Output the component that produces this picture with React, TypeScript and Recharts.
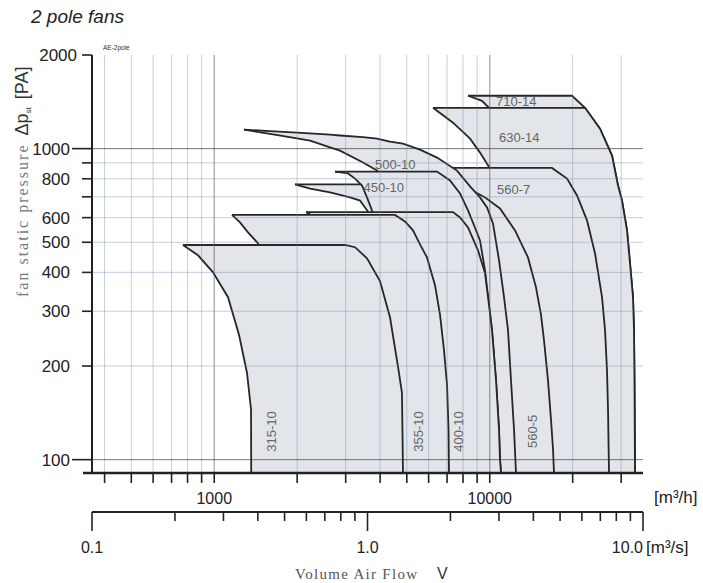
import React from "react";
import { ComposedChart, Area, Line, XAxis, YAxis, ReferenceLine, ReferenceDot } from "recharts";

const SANS = "'Liberation Sans', Arial, sans-serif";
const SERIF = "'Liberation Serif', 'Times New Roman', serif";

// bottom of the pressure axis [Pa]
const F = 90.6;

// fan envelopes: [airflow m3/h, lower pressure Pa, upper pressure Pa]
const FAN_710_14 = [
  [8340, 1479, 1479], [9374, 1425, 1479], [9939, 1353, 1479], [10022, F, 1479],
  [19891, F, 1479], [22172, F, 1353], [25128, F, 1159], [27785, F, 950],
  [29213, F, 761], [30203, F, 681], [31493, F, 546], [32291, F, 428],
  [33111, F, 333], [33389, F, 261], [33530, F, 180], [33673, F, F],
];
const FAN_630_14 = [
  [6224, 1353, 1353], [7356, 1212, 1353], [8481, 1077, 1353], [9218, 971, 1353],
  [10022, 863, 1353], [10106, F, 1353], [22172, F, 1353], [25128, F, 1159],
  [27785, F, 950], [29213, F, 761], [30203, F, 681], [31493, F, 546],
  [32291, F, 428], [33111, F, 333], [33389, F, 261], [33530, F, 180], [33673, F, F],
];
const FAN_560_7 = [
  [7295, 867, 867], [7356, F, 867], [16822, F, 867], [19076, F, 801],
  [20738, F, 707], [22543, F, 588], [24101, F, 461], [25559, F, 333],
  [26208, F, 261], [26643, F, 194], [26873, F, 145], [27097, F, F],
];
const FAN_560_5 = [
  [8769, 728, 728], [8843, F, 725], [9612, F, 697], [10895, F, 642],
  [12352, F, 546], [13766, F, 447], [14720, F, 358], [15350, F, 292],
  [15739, F, 242], [16272, F, 180], [16690, F, 134], [16970, F, 108], [17109, F, F],
];
const FAN_500_10 = [
  [1282, 1151, 1151], [1594, 1115, 1138], [1997, 1078, 1126], [2227, 1061, 1119],
  [2632, 1010, 1109], [2861, 985, 1102], [3467, 902, 1089], [3898, 850, 1077],
  [3931, F, 1075], [4345, F, 1053], [4843, F, 1037], [5583, F, 993],
  [6436, F, 936], [7605, F, 850], [8481, F, 756], [9218, F, 697],
  [9775, F, 647], [10275, F, 575], [10805, F, 438], [11267, F, 333],
  [11650, F, 261], [11944, F, 180], [12250, F, 125], [12454, F, F],
];
const WEDGE = [
  [1964, 767, 767], [2227, 744, 767], [2632, 723, 767], [3111, 697, 767],
  [3381, 681, 767], [3525, 647, 767], [3615, 628, 767], [3645, F, 767], [3931, F, 767],
];
const FAN_450_10 = [
  [2744, 844, 844], [3058, 832, 844], [3243, 801, 844], [3438, 761, 844],
  [3585, 697, 844], [3737, 633, 844], [3770, F, 844], [6436, F, 844],
  [7174, F, 790], [7800, F, 717], [8340, F, 633], [8769, F, 567],
  [9218, F, 507], [9612, F, 406], [9856, F, 333], [10190, F, 261],
  [10537, F, 180], [10805, F, 125], [10895, F, 100], [10987, F, F],
];
const FAN_400_10 = [
  [2154, 625, 625], [2230, 614, 625], [2250, F, 625], [7356, F, 625],
  [7800, F, 601], [8340, F, 558], [9065, F, 471], [9612, F, 398],
  [9856, F, 333], [10190, F, 261], [10537, F, 180], [10805, F, 125],
  [10895, F, 100], [10987, F, F],
];
const FAN_355_10 = [
  [1160, 612, 612], [1240, 579, 612], [1326, 538, 612], [1442, 496, 612],
  [1444, F, 612], [4530, F, 612], [4925, F, 583], [5266, F, 546],
  [5583, F, 492], [5918, F, 447], [6329, F, 364], [6601, F, 292],
  [6822, F, 225], [6998, F, 174], [7085, F, 125], [7114, F, F],
];
const FAN_315_10 = [
  [770, 490, 490], [873, 454, 490], [990, 400, 490], [1122, 333, 490],
  [1230, 252, 490], [1315, 190, 490], [1360, 145, 490], [1362, F, 490],
  [2983, F, 490], [3243, F, 482], [3585, F, 444], [3996, F, 375],
  [4345, F, 287], [4645, F, 199], [4802, F, 164], [4843, F, F],
];

// drawn back to front
const FANS = [
  { name: "710-14", points: FAN_710_14 },
  { name: "630-14", points: FAN_630_14 },
  { name: "560-7", points: FAN_560_7 },
  { name: "560-5", points: FAN_560_5 },
  { name: "500-10", points: FAN_500_10 },
  { name: "wedge", points: WEDGE },
  { name: "450-10", points: FAN_450_10 },
  { name: "400-10", points: FAN_400_10 },
  { name: "355-10", points: FAN_355_10 },
  { name: "315-10", points: FAN_315_10 },
];

const FAN_LABELS = [
  { name: "315-10", q: 1676, p: 106, vertical: true },
  { name: "355-10", q: 5724, p: 106, vertical: true },
  { name: "400-10", q: 8000, p: 106, vertical: true },
  { name: "560-5", q: 14843, p: 109, vertical: true },
  { name: "450-10", q: 3480, p: 723, vertical: false },
  { name: "500-10", q: 3835, p: 863, vertical: false },
  { name: "560-7", q: 10627, p: 717, vertical: false },
  { name: "630-14", q: 10805, p: 1053, vertical: false },
  { name: "710-14", q: 10537, p: 1368, vertical: false },
];

const X_TICKS = [400, 500, 600, 700, 800, 900, 1000, 2000, 3000, 4000, 5000, 6000, 7000, 8000, 9000, 10000, 20000, 30000];
const X_LABELS = [1000, 10000];
const MS_RANGE = [0.1, 10];
const MS_TICKS = [0.1, 0.2, 0.3, 0.4, 0.5, 0.6, 0.7, 0.8, 0.9, 1, 2, 3, 4, 5, 6, 7, 8, 9, 10];
const MS_LABELS: Record<string, string> = { "0.1": "0.1", "1": "1.0", "10": "10.0" };
const Y_TICKS = [100, 200, 300, 400, 500, 600, 700, 800, 900, 1000, 2000];
const Y_LABELS = [100, 200, 300, 400, 500, 600, 800, 1000, 2000];
const GRID_X_MINOR = [400, 500, 600, 700, 800, 900, 2000, 3000, 4000, 5000, 6000, 7000, 8000, 9000, 20000, 30000];
const GRID_X_MAJOR = [1000, 10000];
const GRID_Y_MINOR = [200, 300, 400, 500, 600, 700, 800, 900];
const GRID_Y_MAJOR = [100, 1000];

const QTick = ({ x, y, payload }: any) => {
  const v = payload.value;
  return (
    <g>
      <line x1={x} x2={x} y1={y} y2={y + 10} stroke="#222" strokeWidth={1.6} />
      {X_LABELS.includes(v) && (
        <text x={x} y={y + 31} textAnchor="middle" fontSize={16} fill="#222" fontFamily={SANS}>{v}</text>
      )}
    </g>
  );
};

const MsTick = ({ x, y, payload }: any) => {
  const label = MS_LABELS[String(payload.value)];
  return (
    <g>
      <line x1={x} x2={x} y1={y} y2={y + (label ? 19 : 9)} stroke="#222" strokeWidth={1.6} />
      {label && (
        <text x={x} y={y + 41} textAnchor={label === "10.0" ? "end" : "middle"} fontSize={16} fill="#222" fontFamily={SANS}>{label}</text>
      )}
    </g>
  );
};

const YTick = ({ x, y, payload }: any) => {
  const v = payload.value;
  const long = v === 100 || v === 1000;
  return (
    <g>
      <line x1={x - (long ? 20 : 10)} x2={x} y1={y} y2={y} stroke="#222" strokeWidth={1.6} />
      {Y_LABELS.includes(v) && (
        <text x={v === 2000 ? x - 15 : x - 22} y={y + 6} textAnchor="end" fontSize={17} fill="#222" fontFamily={SANS}>{v}</text>
      )}
    </g>
  );
};

const FanLabel = ({ cx, cy, text, vertical }: any) => (
  <text
    x={cx}
    y={cy}
    fontSize={13}
    fill="#666"
    fontFamily={SANS}
    transform={vertical ? `rotate(-90 ${cx} ${cy})` : undefined}
  >
    {text}
  </text>
);

export default function App() {
  return (
    <div style={{ position: "absolute", left: 0, top: 0, width: 703, height: 583, background: "#fff" }}>
      <ComposedChart width={703} height={583} margin={{ top: 55, right: 60, bottom: 21, left: 32 }}>
        <XAxis
          dataKey="q" type="number" scale="log" domain={[360, 36000]} allowDataOverflow
          ticks={X_TICKS} interval={0} height={39} tickSize={0} tickMargin={0} tickLine={false}
          axisLine={{ stroke: "#222", strokeWidth: 2.5 }} tick={<QTick />}
        />
        <XAxis
          xAxisId="ms" dataKey="s" type="number" scale="log" domain={[0.1, 10]} allowDataOverflow
          ticks={MS_TICKS} interval={0} height={50} tickSize={0} tickMargin={0} tickLine={false}
          axisLine={{ stroke: "#222", strokeWidth: 2 }} tick={<MsTick />}
        />
        <YAxis
          type="number" scale="log" domain={[F, 2000]} allowDataOverflow
          ticks={Y_TICKS} interval={0} width={60} tickSize={0} tickMargin={0} tickLine={false}
          axisLine={{ stroke: "#222", strokeWidth: 2 }} tick={<YTick />}
        />
        {FANS.map((f) => (
          <Area
            key={f.name}
            data={f.points.map(([q, lo, hi]) => ({ q, p: [lo, hi] }))}
            dataKey="p"
            type="linear"
            fill="#e2e5ea"
            fillOpacity={1}
            stroke="#262626"
            strokeWidth={1.8}
            dot={false}
            activeDot={false}
            isAnimationActive={false}
          />
        ))}
        {/* invisible series that carries the m3/s axis */}
        <Line
          xAxisId="ms"
          data={MS_RANGE.map((s) => ({ s, p: 100 }))}
          dataKey="p"
          stroke="none"
          dot={false}
          activeDot={false}
          isAnimationActive={false}
        />
        {GRID_X_MINOR.map((v) => (
          <ReferenceLine key={"gx" + v} x={v} stroke="rgb(110,135,170)" strokeOpacity={0.4} strokeWidth={1} />
        ))}
        {GRID_X_MAJOR.map((v) => (
          <ReferenceLine key={"gX" + v} x={v} stroke="#505050" strokeOpacity={0.5} strokeWidth={1.3} />
        ))}
        {GRID_Y_MINOR.map((v) => (
          <ReferenceLine key={"gy" + v} y={v} stroke="rgb(110,135,170)" strokeOpacity={0.4} strokeWidth={1} />
        ))}
        {GRID_Y_MAJOR.map((v) => (
          <ReferenceLine key={"gY" + v} y={v} stroke="#303030" strokeOpacity={0.65} strokeWidth={1} />
        ))}
        {FAN_LABELS.map((l) => (
          <ReferenceDot
            key={"l" + l.name}
            x={l.q}
            y={l.p}
            r={0}
            shape={(p: any) => <FanLabel cx={p.cx} cy={p.cy} text={l.name} vertical={l.vertical} />}
          />
        ))}
      </ComposedChart>
      <svg width={703} height={583} style={{ position: "absolute", left: 0, top: 0, pointerEvents: "none" }}>
        <text x={31} y={23} fontSize={19} fontStyle="italic" fill="#222" fontFamily={SANS}>2 pole fans</text>
        <text x={103} y={50} fontSize={6.5} fill="#333" fontFamily={SANS}>AE-2pole</text>
        <line x1={83} x2={92} y1={473} y2={473} stroke="#222" strokeWidth={2.5} />
        <text x={28} y={297} transform="rotate(-90 28 297)" fontFamily={SANS}>
          <tspan fontFamily={SERIF} fontSize={16} fill="#777" letterSpacing={2}>fan static pressure</tspan>
          <tspan dx={8} fontSize={18} fill="#333">Δp</tspan>
          <tspan fontSize={8} fill="#333" dy={3}>st</tspan>
          <tspan dx={8} dy={-3} fontSize={18} fill="#333">[PA]</tspan>
        </text>
        <text x={654} y={503} fontSize={17} fill="#222" fontFamily={SANS}>[m³/h]</text>
        <text x={646} y={553} fontSize={17} fill="#222" fontFamily={SANS}>[m³/s]</text>
        <text x={295} y={579} fontSize={15} fill="#555" fontFamily={SERIF} letterSpacing={1.3}>Volume Air Flow</text>
        <text x={437} y={579} fontSize={16} fill="#333" fontFamily={SANS}>V</text>
      </svg>
    </div>
  );
}
